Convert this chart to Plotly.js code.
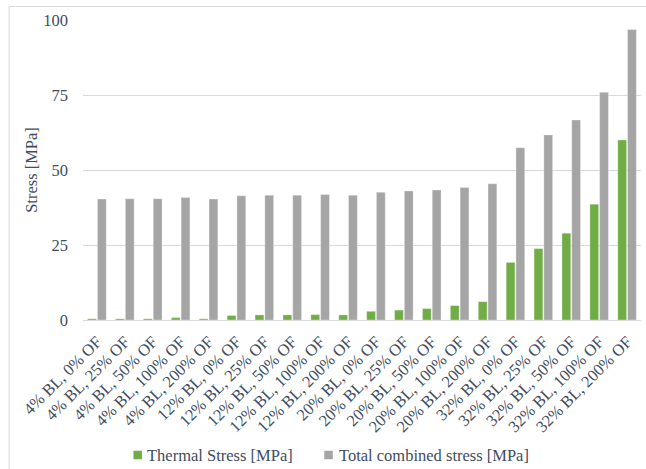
<!DOCTYPE html>
<html>
<head>
<meta charset="utf-8">
<script src="https://cdn.plot.ly/plotly-3.0.1.min.js"></script>
<style>html,body{margin:0;padding:0;background:#fff;overflow:hidden;width:646px;height:469px;}#chart{width:646px;height:469px;display:block;overflow:hidden;}</style>
</head>
<body>
<div id="chart"></div>
<script>
const categories = [
  "4% BL, 0% OF", "4% BL, 25% OF", "4% BL, 50% OF", "4% BL, 100% OF", "4% BL, 200% OF",
  "12% BL, 0% OF", "12% BL, 25% OF", "12% BL, 50% OF", "12% BL, 100% OF", "12% BL, 200% OF",
  "20% BL, 0% OF", "20% BL, 25% OF", "20% BL, 50% OF", "20% BL, 100% OF", "20% BL, 200% OF",
  "32% BL, 0% OF", "32% BL, 25% OF", "32% BL, 50% OF", "32% BL, 100% OF", "32% BL, 200% OF"
];
const thermalStress = [0.4, 0.4, 0.4, 0.8, 0.4, 1.5, 1.7, 1.7, 1.8, 1.7, 2.9, 3.3, 3.8, 4.8, 6.1, 19.2, 23.8, 28.9, 38.6, 60.0];
const totalStress = [40.3, 40.4, 40.4, 40.8, 40.3, 41.4, 41.6, 41.6, 41.8, 41.6, 42.6, 43.0, 43.3, 44.2, 45.4, 57.4, 61.7, 66.7, 75.9, 96.8];
const seriesNames = ["Thermal Stress [MPa]", "Total combined stress [MPa]"];
const seriesColors = ["#70AD47", "#A5A5A5"];
const yTicks = [0, 25, 50, 75, 100];

const textColor = "#404D61";
const fontFamily = "Liberation Serif";

const data = [
  {
    type: "bar", name: seriesNames[0], x: categories, y: thermalStress,
    marker: {color: seriesColors[0], line: {color: "rgba(255,255,255,0.5)", width: 0.6}},
    hoverinfo: "x+y"
  },
  {
    type: "bar", name: seriesNames[1], x: categories, y: totalStress,
    marker: {color: seriesColors[1], line: {color: "rgba(255,255,255,0.5)", width: 0.6}},
    hoverinfo: "x+y"
  }
];

const plotL = 82.5, plotR = 641, plotT = 20, plotB = 320;
const W = 646, H = 469;
const pw = plotR - plotL, ph = plotB - plotT;
function px2x(p){ return (p - plotL) / pw; }
function py2y(p){ return (plotB - p) / ph; }

// custom legend (square + label), positioned in pixels
const legendItems = [
  {sq0: 133, sq1: 141.5, textX: 144.5},
  {sq0: 324, sq1: 332.5, textX: 336.5}
];
const legendY = 455;
const legendShapes = legendItems.map((it, i) => ({
  type: "rect", xref: "paper", yref: "paper",
  x0: px2x(it.sq0), x1: px2x(it.sq1), y0: py2y(legendY + 4.25), y1: py2y(legendY - 4.25),
  fillcolor: seriesColors[i], line: {width: 0}
}));
const legendAnnotations = legendItems.map((it, i) => ({
  xref: "paper", yref: "paper", x: px2x(it.textX), y: py2y(legendY),
  xanchor: "left", yanchor: "middle", showarrow: false, text: seriesNames[i],
  font: {family: fontFamily, size: 16.5, color: textColor}
}));

const layout = {
  width: W, height: H,
  margin: {l: plotL, r: W - plotR, t: plotT, b: H - plotB, pad: 0},
  paper_bgcolor: "#ffffff", plot_bgcolor: "#ffffff",
  font: {family: fontFamily, size: 16.5, color: textColor},
  barmode: "group", bargap: 0.3, bargroupgap: 0.1,
  showlegend: false,
  xaxis: {
    type: "category", tickangle: -45, showgrid: false, zeroline: false,
    showline: false, ticks: "", automargin: false, ticklabelstandoff: 8,
    tickfont: {family: fontFamily, size: 16.5, color: textColor},
    fixedrange: true
  },
  yaxis: {
    range: [0, 100], tickvals: yTicks, ticktext: yTicks.map(String),
    showgrid: true, gridcolor: "#D9D9D9", gridwidth: 1,
    zeroline: true, zerolinecolor: "#D9D9D9", zerolinewidth: 1,
    showline: false, ticks: "", automargin: false, ticklabelstandoff: 14,
    tickfont: {family: fontFamily, size: 16.5, color: textColor},
    title: {text: "Stress [MPa]", font: {family: fontFamily, size: 16.5, color: textColor}, standoff: 1},
    fixedrange: true
  },
  shapes: [{
    type: "rect", xref: "paper", yref: "paper",
    x0: px2x(8.5), x1: px2x(660), y0: py2y(480), y1: py2y(6.5),
    line: {color: "#D9D9D9", width: 1}, fillcolor: "rgba(0,0,0,0)", layer: "below"
  }].concat(legendShapes),
  annotations: legendAnnotations
};

Plotly.newPlot("chart", data, layout, {displayModeBar: false, staticPlot: true});
</script>
</body>
</html>
